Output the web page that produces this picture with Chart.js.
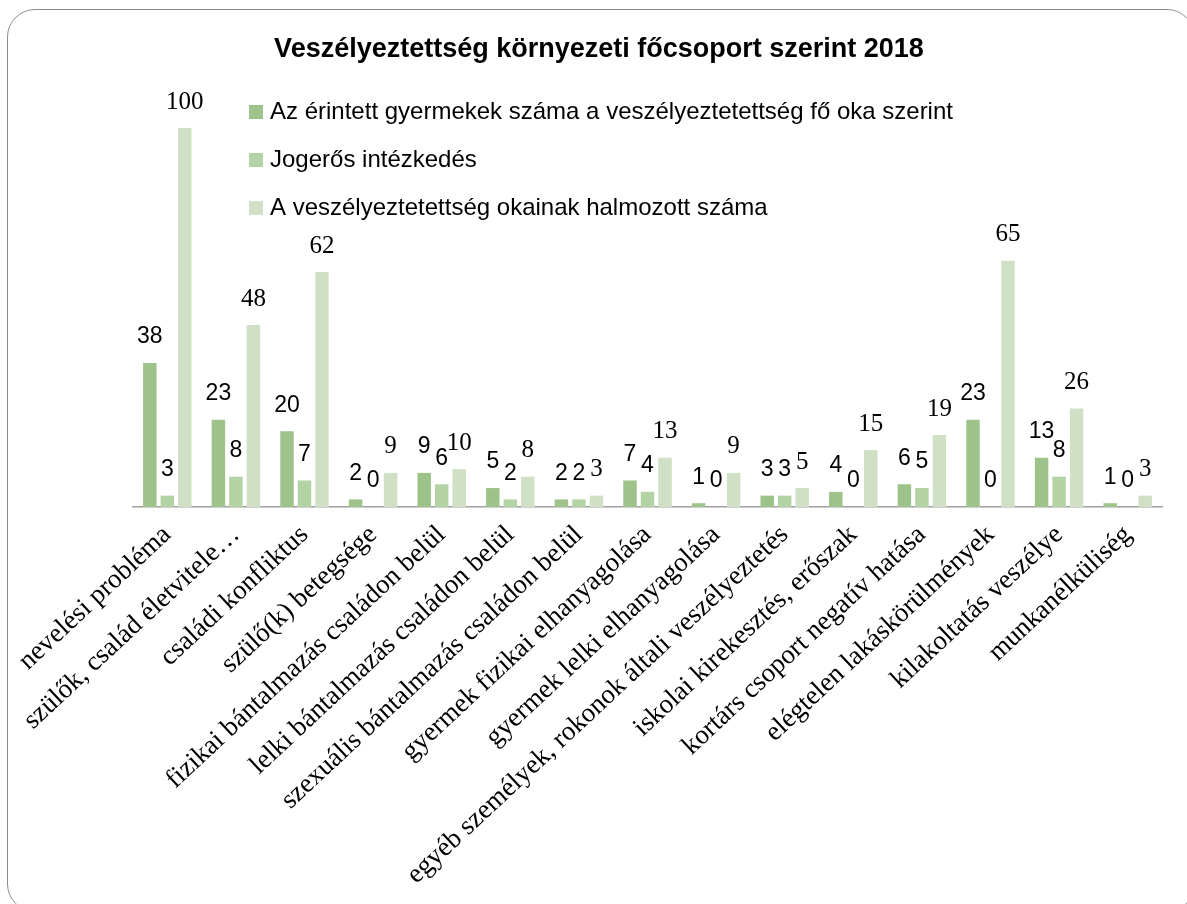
<!DOCTYPE html>
<html>
<head>
<meta charset="utf-8">
<script src="https://cdn.jsdelivr.net/npm/chart.js@4"></script>
<style>
  html, body { margin: 0; padding: 0; background: #fff; overflow: hidden; }
  #frame {
    position: absolute; left: 7px; top: 9px; width: 1188px; height: 903px;
    border: 1.5px solid #8c8c8c; border-radius: 28px; box-sizing: border-box;
  }
  #my-chart { position: absolute; left: 0; top: 0; }
</style>
</head>
<body>
<div id="frame"></div>
<canvas id="my-chart" width="1187" height="904"></canvas>
<script>
var categories = [
  "nevelési probléma",
  "szülők, család életvitele…",
  "családi konfliktus",
  "szülő(k) betegsége",
  "fizikai bántalmazás családon belül",
  "lelki bántalmazás családon belül",
  "szexuális bántalmazás családon belül",
  "gyermek fizikai elhanyagolása",
  "gyermek lelki elhanyagolása",
  "egyéb személyek, rokonok általi veszélyeztetés",
  "iskolai kirekesztés, erőszak",
  "kortárs csoport negatív hatása",
  "elégtelen lakáskörülmények",
  "kilakoltatás veszélye",
  "munkanélküliség"
];

var seriesNames = [
  "Az érintett gyermekek száma a veszélyeztetettség fő oka szerint",
  "Jogerős intézkedés",
  "A veszélyeztetettség okainak halmozott száma"
];

var affectedChildren = [38, 23, 20, 2, 9, 5, 2, 7, 1, 3, 4, 6, 23, 13, 1];
var finalMeasures = [3, 8, 7, 0, 6, 2, 2, 4, 0, 3, 0, 5, 0, 8, 0];
var cumulativeCauses = [100, 48, 62, 9, 10, 8, 3, 13, 9, 5, 15, 19, 65, 26, 3];

var colors = ["#9dc38b", "#b4d3a4", "#cfe0c5"];
var labelFonts = [
  "23px 'Liberation Sans', Arial, sans-serif",
  "23px 'Liberation Sans', Arial, sans-serif",
  "25px 'Liberation Serif', 'Times New Roman', serif"
];

var chartTitle = "Veszélyeztettség környezeti főcsoport szerint 2018";

// draws title, legend and the value labels
var decorations = {
  id: "decorations",
  afterDatasetsDraw: function (chart) {
    var ctx = chart.ctx;
    ctx.save();
    ctx.fillStyle = "#000";
    ctx.textAlign = "center";
    ctx.textBaseline = "middle";
    chart.data.datasets.forEach(function (ds, i) {
      var meta = chart.getDatasetMeta(i);
      ctx.font = labelFonts[i];
      meta.data.forEach(function (bar, j) {
        ctx.fillText(String(ds.data[j]), bar.x, bar.y - 26);
      });
    });
    ctx.restore();
  },
  afterDraw: function (chart) {
    var ctx = chart.ctx;
    ctx.save();
    ctx.fillStyle = "#000";
    ctx.textAlign = "center";
    ctx.textBaseline = "middle";
    ctx.font = "bold 27px 'Liberation Sans', Arial, sans-serif";
    ctx.fillText(chartTitle, 599, 50);

    ctx.textAlign = "left";
    ctx.font = "24px 'Liberation Sans', Arial, sans-serif";
    chart.data.datasets.forEach(function (ds, i) {
      var y = 112 + i * 48;
      ctx.fillStyle = ds.backgroundColor;
      ctx.fillRect(249, y - 7, 14, 14);
      ctx.fillStyle = "#000";
      ctx.fillText(ds.label, 270, y);
    });
    ctx.restore();
  }
};

var ctx = document.getElementById("my-chart").getContext("2d");
var myChart = new Chart(ctx, {
  type: "bar",
  data: {
    labels: categories,
    datasets: [
      { label: seriesNames[0], data: affectedChildren, backgroundColor: colors[0] },
      { label: seriesNames[1], data: finalMeasures, backgroundColor: colors[1] },
      { label: seriesNames[2], data: cumulativeCauses, backgroundColor: colors[2] }
    ]
  },
  options: {
    responsive: false,
    animation: false,
    devicePixelRatio: 1,
    barPercentage: 0.77,
    categoryPercentage: 0.765,
    layout: { padding: { top: 128, left: 133, right: 25, bottom: 0 } },
    plugins: {
      legend: { display: false },
      title: { display: false },
      tooltip: { enabled: false }
    },
    scales: {
      x: {
        grid: { display: false },
        border: { display: true, color: "#a0a0a0", width: 1.5 },
        ticks: {
          color: "#000",
          autoSkip: false,
          minRotation: 43,
          maxRotation: 43,
          padding: 4,
          font: { family: "'Liberation Serif', 'Times New Roman', serif", size: 27 }
        },
        afterFit: function (scale) {
          scale.height = 397;
          scale.paddingLeft = 0;
          scale.paddingRight = 0;
        }
      },
      y: {
        display: false,
        min: 0,
        max: 100
      }
    }
  },
  plugins: [decorations]
});
</script>
</body>
</html>
